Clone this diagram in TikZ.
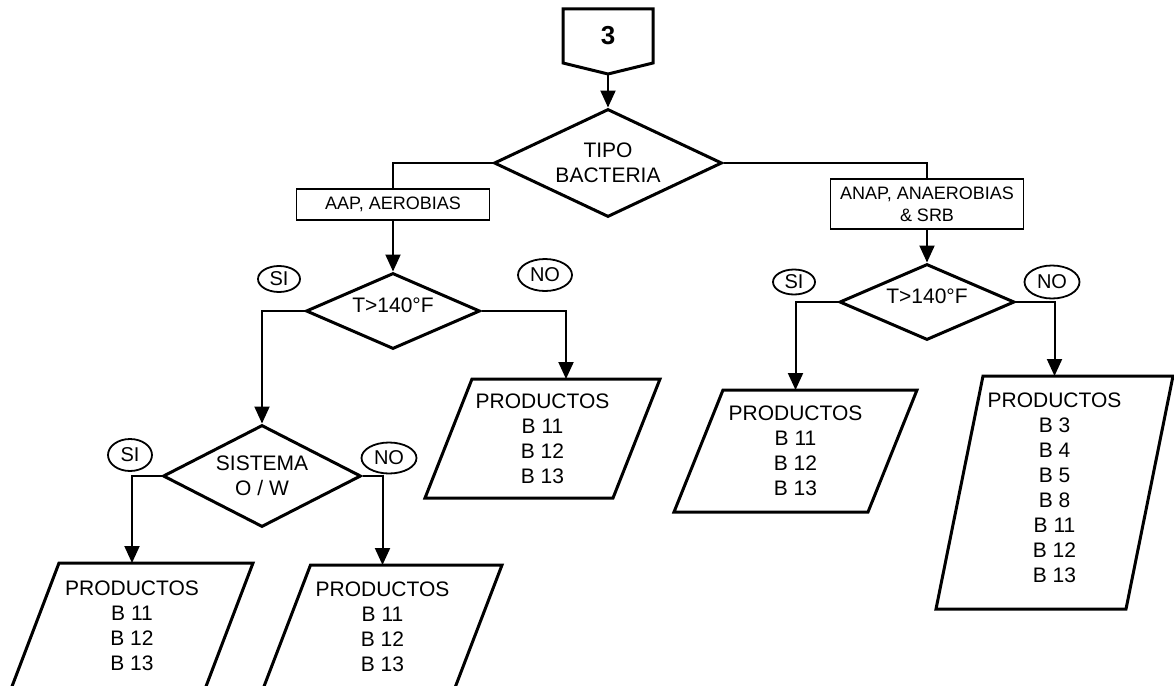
\documentclass[tikz,border=0pt]{standalone}
\usepackage{fontspec}
\setmainfont{Liberation Sans}
\usetikzlibrary{shapes.geometric,arrows.meta}

% outline of a slanted output box around a named rectangle node:
% #1 = node name, #2 = horizontal offset of the top edge
\newcommand\drawslant[2]{%
  \draw[slant] ([xshift=#2]#1.north west) -- (#1.north east)
    -- ([xshift=-#2]#1.south east) -- (#1.south west) -- cycle;}

\begin{document}
\begin{tikzpicture}[x=1pt,y=-1pt,
  base/.style={font=\fontsize{21}{25}\selectfont, align=center, inner sep=0pt},
  decision/.style={base, diamond, draw, line width=3pt, aspect=2},
  tag/.style={base, rectangle, draw, line width=1.8pt, font=\fontsize{18}{22}\selectfont},
  answer/.style={ellipse, draw, line width=1.8pt, inner sep=0pt, font=\fontsize{20}{24}\selectfont},
  outbox/.style={base, rectangle, outer sep=0pt},
  slant/.style={draw, line width=3pt, line join=miter},
  link/.style={line width=2pt},
  arr/.style={link, -{Triangle[length=17pt,width=15pt]}},
]
\useasboundingbox (0,0) rectangle (1174,685);
\clip (0,0) rectangle (1174,685);

% off-page connector
\node[outbox, minimum width=90, minimum height=54,
      font=\fontsize{26}{30}\selectfont\bfseries] (start) at (608,36) {3};
\coordinate (startTip) at (608,74);
\draw[slant] (start.south west) -- (start.north west) -- (start.north east)
  -- (start.south east) -- (startTip) -- cycle;

% decisions
\node[decision, minimum width=228, minimum height=108] (tipo) at (608,163) {TIPO\\BACTERIA};
\node[decision, minimum width=174, minimum height=76, text depth=12pt] (tA) at (393,311) {T>140°F};
\node[decision, minimum width=175, minimum height=76, text depth=12pt] (tB) at (927,302) {T>140°F};
\node[decision, minimum width=198, minimum height=102] (sist) at (262,476) {SISTEMA\\O / W};

% branch tags
\node[tag, minimum width=193, minimum height=31] (aap) at (393,204.5) {AAP, AEROBIAS};
\node[tag, minimum width=193, minimum height=50] (anap) at (927,204) {ANAP, ANAEROBIAS\\\& SRB};

% yes / no marks
\node[answer, minimum width=42, minimum height=26] (siA) at (279,279) {SI};
\node[answer, minimum width=54, minimum height=32] (noA) at (545,275) {NO};
\node[answer, minimum width=44, minimum height=32] (siS) at (130,455) {SI};
\node[answer, minimum width=55, minimum height=31] (noS) at (389,458) {NO};
\node[answer, minimum width=42, minimum height=25] (siB) at (794,282) {SI};
\node[answer, minimum width=55, minimum height=33] (noB) at (1052,282) {NO};

% product boxes
\node[outbox, minimum width=242, minimum height=126] (pA) at (132,626) {PRODUCTOS\\B 11\\B 12\\B 13};
\drawslant{pA}{48}
\node[outbox, minimum width=239, minimum height=124] (pB) at (382.5,627) {PRODUCTOS\\B 11\\B 12\\B 13};
\drawslant{pB}{47.5}
\node[outbox, minimum width=235, minimum height=119] (pMid) at (542.5,438.5) {PRODUCTOS\\B 11\\B 12\\B 13};
\drawslant{pMid}{47}
\node[outbox, minimum width=243, minimum height=122] (pC) at (795.5,451) {PRODUCTOS\\B 11\\B 12\\B 13};
\drawslant{pC}{49}
\node[outbox, minimum width=237, minimum height=233, text depth=10pt] (pD) at (1054.5,492.5)
  {PRODUCTOS\\B 3\\B 4\\B 5\\B 8\\B 11\\B 12\\B 13};
\drawslant{pD}{47}

% connectors
\draw[arr] (startTip) -- (tipo.north);
\draw[link] (tipo.west) -| (aap.north);
\draw[link] (tipo.east) -| (anap.north);
\draw[arr] (aap.south) -- (tA.north);
\draw[arr] (anap.south) -- (tB.north);
\draw[arr] (tA.west) -| (sist.north);
\draw[arr] (tA.east) -| ([xshift=23.5]pMid.north);
\draw[arr] (sist.west) -| (pA.north);
\draw[arr] (sist.east) -| (pB.north);
\draw[arr] (tB.west) -| (pC.north);
\draw[arr] (tB.east) -| (pD.north);
\end{tikzpicture}
\end{document}
